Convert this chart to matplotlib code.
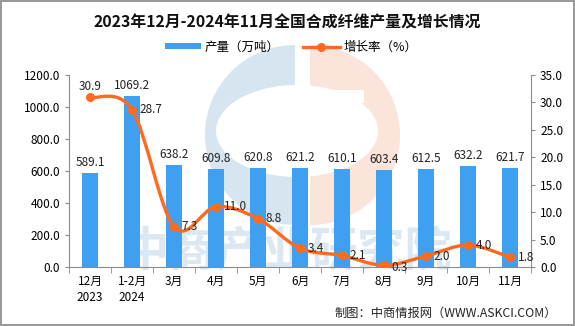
import numpy as np
import matplotlib
matplotlib.use('Agg')
import matplotlib.pyplot as plt
import matplotlib.ticker as ticker
from matplotlib.path import Path
from matplotlib.patches import PathPatch, Wedge, Ellipse, Rectangle

plt.rcParams['font.family'] = ['Noto Sans CJK SC', 'DejaVu Sans']

# data
months = ['12月\n2023', '1-2月\n2024', '3月', '4月', '5月', '6月', '7月', '8月', '9月', '10月', '11月']
output = [589.1, 1069.2, 638.2, 609.8, 620.8, 621.2, 610.1, 603.4, 612.5, 632.2, 621.7]
growth = [30.9, 28.7, 7.3, 11.0, 8.8, 3.4, 2.1, 0.3, 2.0, 4.0, 1.8]

bar_color = '#3F9FF0'
line_color = '#FF6A1F'
axis_grey = '#8c8c8c'


def smooth_path(x, y):
    # Bezier segments through the points (spreadsheet style smoothing)
    pts = np.column_stack([x, y]).astype(float)
    ext = np.vstack([pts[0], pts, pts[-1]])
    verts = [pts[0]]
    codes = [Path.MOVETO]
    for i in range(len(pts) - 1):
        p0, p1, p2, p3 = ext[i], ext[i + 1], ext[i + 2], ext[i + 3]
        verts += [p1 + (p2 - p0) / 6, p2 - (p3 - p1) / 6, p2]
        codes += [Path.CURVE4] * 3
    return Path(verts, codes)


fig = plt.figure(figsize=(5.75, 3.26), dpi=100)
fig.patch.set_edgecolor('#9a9a9a')
fig.patch.set_linewidth(1.5)

# faint watermark behind the plot (positions in inches)
inch = fig.dpi_scale_trans
wm_blue, wm_orange = '#d6e5ef', '#fbe4da'
fig.patches.append(Wedge((2.95, 1.91), 0.9, 90, 270, transform=inch, facecolor=wm_blue,
                         edgecolor='none', zorder=-3))
fig.patches.append(Ellipse((2.97, 1.95), 1.62, 0.92, transform=inch, facecolor='white',
                           edgecolor='none', zorder=-2))
fig.patches.append(Wedge((3.10, 1.91), 0.9, -90, 90, transform=inch, facecolor=wm_orange,
                         edgecolor='none', zorder=-3))
fig.patches.append(Rectangle((3.09, 2.23), 0.55, 0.13, transform=inch, facecolor='white',
                             edgecolor='none', zorder=-2))
fig.text(0.5, 0.228, '中商产业研究院', fontsize=34, fontweight='bold', color='#dce8f1',
         ha='center', va='center', zorder=-1)

ax = fig.add_axes([0.12, 0.181, 0.8035, 0.589])
ax.set_facecolor('none')
ax2 = ax.twinx()
ax2.set_facecolor('none')

x = np.arange(len(months))
bars = ax.bar(x, output, 0.36, color=bar_color, zorder=2, label='产量（万吨）')
for xi, v in zip(x, output):
    ax.text(xi, v + 25, f'{v:.1f}', ha='center', va='bottom', fontsize=8.5, color='#222222')

ax2.add_patch(PathPatch(smooth_path(x, growth), fill=False, edgecolor=line_color, lw=2.4, zorder=3))
ax2.plot(x, growth, 'o', color=line_color, ms=5.5, zorder=4)
for xi, v in zip(x, growth):
    if xi == 0:
        ax2.text(xi, v + 0.8, f'{v:.1f}', ha='center', va='bottom', fontsize=8.5, color='#222222')
    elif v < 1:
        ax2.text(xi + 0.18, v - 0.4, f'{v:.1f}', ha='left', va='center', fontsize=8.5, color='#222222')
    else:
        ax2.text(xi + 0.18, v, f'{v:.1f}', ha='left', va='center', fontsize=8.5, color='#222222')

ax.set_xlim(-0.5, len(months) - 0.5)
ax.set_ylim(0, 1200)
ax2.set_ylim(0, 35)
ax.yaxis.set_major_locator(ticker.MultipleLocator(200))
ax2.yaxis.set_major_locator(ticker.MultipleLocator(5))
ax.yaxis.set_major_formatter(ticker.FormatStrFormatter('%.1f'))
ax2.yaxis.set_major_formatter(ticker.FormatStrFormatter('%.1f'))

ax.set_xticks(x)
ax.set_xticklabels(months, fontsize=8.5, linespacing=1.25)
ax.xaxis.set_minor_locator(ticker.FixedLocator(np.arange(-0.5, len(months), 1)))
ax.tick_params(axis='x', which='major', length=0, pad=6)
ax.tick_params(axis='x', which='minor', length=4, direction='out', color=axis_grey)
ax.tick_params(axis='y', labelsize=8.5, length=3, color=axis_grey)
ax2.tick_params(axis='y', labelsize=8.5, length=3, color=axis_grey)

for a in (ax, ax2):
    a.spines['top'].set_visible(False)
    for s in ('left', 'right', 'bottom'):
        a.spines[s].set_color(axis_grey)
ax.spines['right'].set_visible(False)
ax2.spines['left'].set_visible(False)
ax2.spines['bottom'].set_visible(False)

fig.text(0.5, 0.93, '2023年12月-2024年11月全国合成纤维产量及增长情况', ha='center', va='center',
         fontsize=11.4, fontweight='bold', color='#111111')

line_handle = plt.Line2D([], [], color=line_color, lw=2.4, marker='o', ms=5.5)
fig.legend([bars, line_handle], ['产量（万吨）', '增长率（%）'], loc='center', bbox_to_anchor=(0.506, 0.856),
           ncol=2, frameon=False, fontsize=9, handlelength=2.9, handleheight=0.45,
           columnspacing=1.9, handletextpad=0.3)

fig.text(0.968, 0.04, '制图：中商情报网（WWW.ASKCI.COM）', ha='right', va='center', fontsize=8.8, color='#222222')

fig.savefig('out.png', dpi=100)
